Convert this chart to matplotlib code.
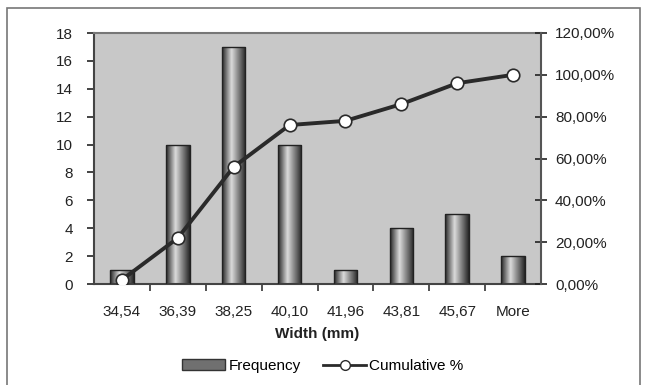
import numpy as np
import matplotlib
matplotlib.use("Agg")
import matplotlib.pyplot as plt
from matplotlib.patches import Rectangle
from matplotlib.lines import Line2D
from matplotlib.ticker import FuncFormatter, FixedLocator

plt.rcParams['font.family'] = ['Liberation Sans', 'DejaVu Sans']

bins = ['34,54', '36,39', '38,25', '40,10', '41,96', '43,81', '45,67', 'More']
frequency = [1, 10, 17, 10, 1, 4, 5, 2]
cumulative = [2, 22, 56, 76, 78, 86, 96, 100]

fig = plt.figure(figsize=(6.46, 3.85), dpi=100)
fig.patches.append(Rectangle((7/646, -0.01), 633/646, 1 - 8/385 + 0.01, transform=fig.transFigure,
                             fill=False, edgecolor='#777777', linewidth=1.2))
ax = fig.add_axes([94/646, 1-284/385, 447/646, 251/385])
ax.set_facecolor('#c8c8c8')

x = np.arange(len(bins))
w = 0.42
grad = np.concatenate([np.linspace(0.15, 0.85, 40), np.linspace(0.85, 0.15, 60)])
grad = grad.reshape(1, -1)
bars = ax.bar(x, frequency, width=w, facecolor='none', edgecolor='#222222', linewidth=1, zorder=3)
for b in bars:
    im = ax.imshow(grad, cmap='gray', vmin=0, vmax=1, aspect='auto', zorder=2,
                   extent=[b.get_x(), b.get_x() + b.get_width(), 0, b.get_height()])
    im.set_clip_path(b)

ax.set_xlim(-0.5, len(bins) - 0.5)
ax.set_ylim(0, 18)
ax.set_yticks(range(0, 19, 2))
ax.set_xticks(x)
ax.set_xticklabels(bins)
ax.xaxis.set_minor_locator(FixedLocator(np.arange(0.5, len(bins) - 0.5, 1)))
ax.tick_params(axis='x', which='major', length=0, pad=15, labelsize=11, colors='#222222')
ax.tick_params(axis='x', which='minor', length=5, width=1.2, direction='out', color='#333333')
ax.tick_params(axis='y', length=5, width=1.2, labelsize=11, colors='#222222', pad=10)
ax.set_xlabel('Width (mm)', fontsize=11, fontweight='bold', color='#222222', labelpad=6)

for s in ['left', 'bottom']:
    ax.spines[s].set_color('#444444')
    ax.spines[s].set_linewidth(1.5)
ax.spines['top'].set_color('#777777')
ax.spines['top'].set_linewidth(1.5)
ax.spines['right'].set_visible(False)

ax2 = ax.twinx()
ax2.plot(x, cumulative, color='#2a2a2a', linewidth=2.8, marker='o', markersize=9,
         markerfacecolor='white', markeredgecolor='#2a2a2a', markeredgewidth=1.2, zorder=5)
ax2.set_ylim(0, 120)
ax2.set_yticks(range(0, 121, 20))
ax2.yaxis.set_major_formatter(FuncFormatter(lambda v, p: f"{v:.2f}%".replace('.', ',')))
ax2.tick_params(axis='y', length=8, width=1.2, direction='inout', labelsize=11,
                colors='#222222', pad=6)
for s in ['left', 'top', 'bottom']:
    ax2.spines[s].set_visible(False)
ax2.spines['right'].set_color('#555555')
ax2.spines['right'].set_linewidth(1.5)

handles = [Rectangle((0, 0), 1, 1, facecolor='#707070', edgecolor='#333333'),
           Line2D([0], [0], color='#2a2a2a', linewidth=2, marker='o', markersize=7,
                  markerfacecolor='white', markeredgecolor='#2a2a2a')]
fig.legend(handles, ['Frequency', 'Cumulative %'], loc='center', bbox_to_anchor=(0.5, 1-366/385),
           ncol=2, frameon=False, fontsize=11, handlelength=2.8, handletextpad=0.2,
           columnspacing=1.5)

fig.savefig('out.png', dpi=100)
